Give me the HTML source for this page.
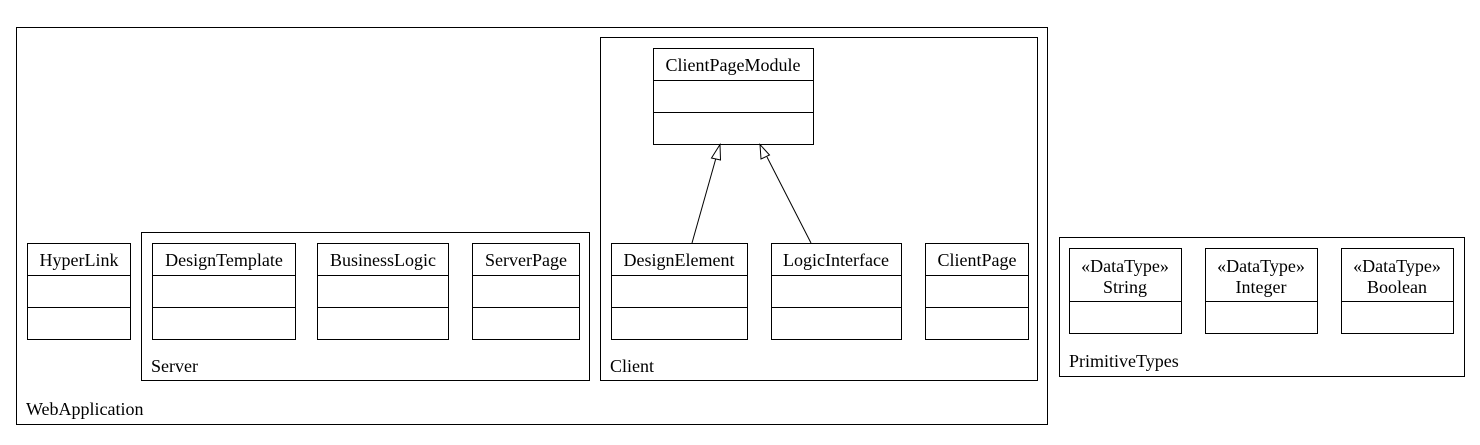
<!DOCTYPE html>
<html><head><style>body{margin:0;background:#fff}svg text{font-family:"Liberation Serif","Times New Roman",Times,serif;font-size:18px;fill:#000;stroke:none}</style></head><body>
<svg width="1480" height="440" xmlns="http://www.w3.org/2000/svg" fill="none" stroke="#000" stroke-width="1">
<rect x="16.5" y="27.5" width="1031" height="397"/>
<text x="26" y="415">WebApplication</text>
<rect x="27.5" y="243.5" width="103" height="96"/><line x1="27" y1="275.5" x2="131" y2="275.5"/><line x1="27" y1="307.5" x2="131" y2="307.5"/>
<text x="79" y="266" text-anchor="middle">HyperLink</text>
<rect x="141.5" y="232.5" width="448" height="148"/>
<text x="151" y="372">Server</text>
<rect x="152.5" y="243.5" width="143" height="96"/><line x1="152" y1="275.5" x2="296" y2="275.5"/><line x1="152" y1="307.5" x2="296" y2="307.5"/>
<text x="224" y="266" text-anchor="middle">DesignTemplate</text>
<rect x="317.5" y="243.5" width="131" height="96"/><line x1="317" y1="275.5" x2="449" y2="275.5"/><line x1="317" y1="307.5" x2="449" y2="307.5"/>
<text x="383" y="266" text-anchor="middle">BusinessLogic</text>
<rect x="472.5" y="243.5" width="107" height="96"/><line x1="472" y1="275.5" x2="580" y2="275.5"/><line x1="472" y1="307.5" x2="580" y2="307.5"/>
<text x="526" y="266" text-anchor="middle">ServerPage</text>
<rect x="600.5" y="37.5" width="437" height="343"/>
<text x="610" y="372">Client</text>
<rect x="653.5" y="48.5" width="160" height="96"/><line x1="653" y1="80.5" x2="814" y2="80.5"/><line x1="653" y1="112.5" x2="814" y2="112.5"/>
<text x="733" y="71" text-anchor="middle">ClientPageModule</text>
<rect x="611.5" y="243.5" width="136" height="96"/><line x1="611" y1="275.5" x2="748" y2="275.5"/><line x1="611" y1="307.5" x2="748" y2="307.5"/>
<text x="679" y="266" text-anchor="middle">DesignElement</text>
<rect x="771.5" y="243.5" width="130" height="96"/><line x1="771" y1="275.5" x2="902" y2="275.5"/><line x1="771" y1="307.5" x2="902" y2="307.5"/>
<text x="836" y="266" text-anchor="middle">LogicInterface</text>
<rect x="925.5" y="243.5" width="103" height="96"/><line x1="925" y1="275.5" x2="1029" y2="275.5"/><line x1="925" y1="307.5" x2="1029" y2="307.5"/>
<text x="977" y="266" text-anchor="middle">ClientPage</text>
<line x1="692" y1="243" x2="716" y2="158"/>
<polygon points="720,144.5 711.5,158 720.5,160" fill="#fff"/>
<line x1="811" y1="243" x2="767" y2="157"/>
<polygon points="760,144.5 761,159 769.5,155" fill="#fff"/>
<rect x="1059.5" y="237.5" width="405" height="139"/>
<text x="1069" y="367">PrimitiveTypes</text>
<rect x="1069.5" y="248.5" width="112" height="85"/><line x1="1069" y1="301.5" x2="1182" y2="301.5"/>
<text x="1125" y="272" text-anchor="middle">«DataType»</text><text x="1125" y="293" text-anchor="middle">String</text>
<rect x="1205.5" y="248.5" width="112" height="85"/><line x1="1205" y1="301.5" x2="1318" y2="301.5"/>
<text x="1261" y="272" text-anchor="middle">«DataType»</text><text x="1261" y="293" text-anchor="middle">Integer</text>
<rect x="1341.5" y="248.5" width="112" height="85"/><line x1="1341" y1="301.5" x2="1454" y2="301.5"/>
<text x="1397" y="272" text-anchor="middle">«DataType»</text><text x="1397" y="293" text-anchor="middle">Boolean</text>
</svg>
</body></html>
